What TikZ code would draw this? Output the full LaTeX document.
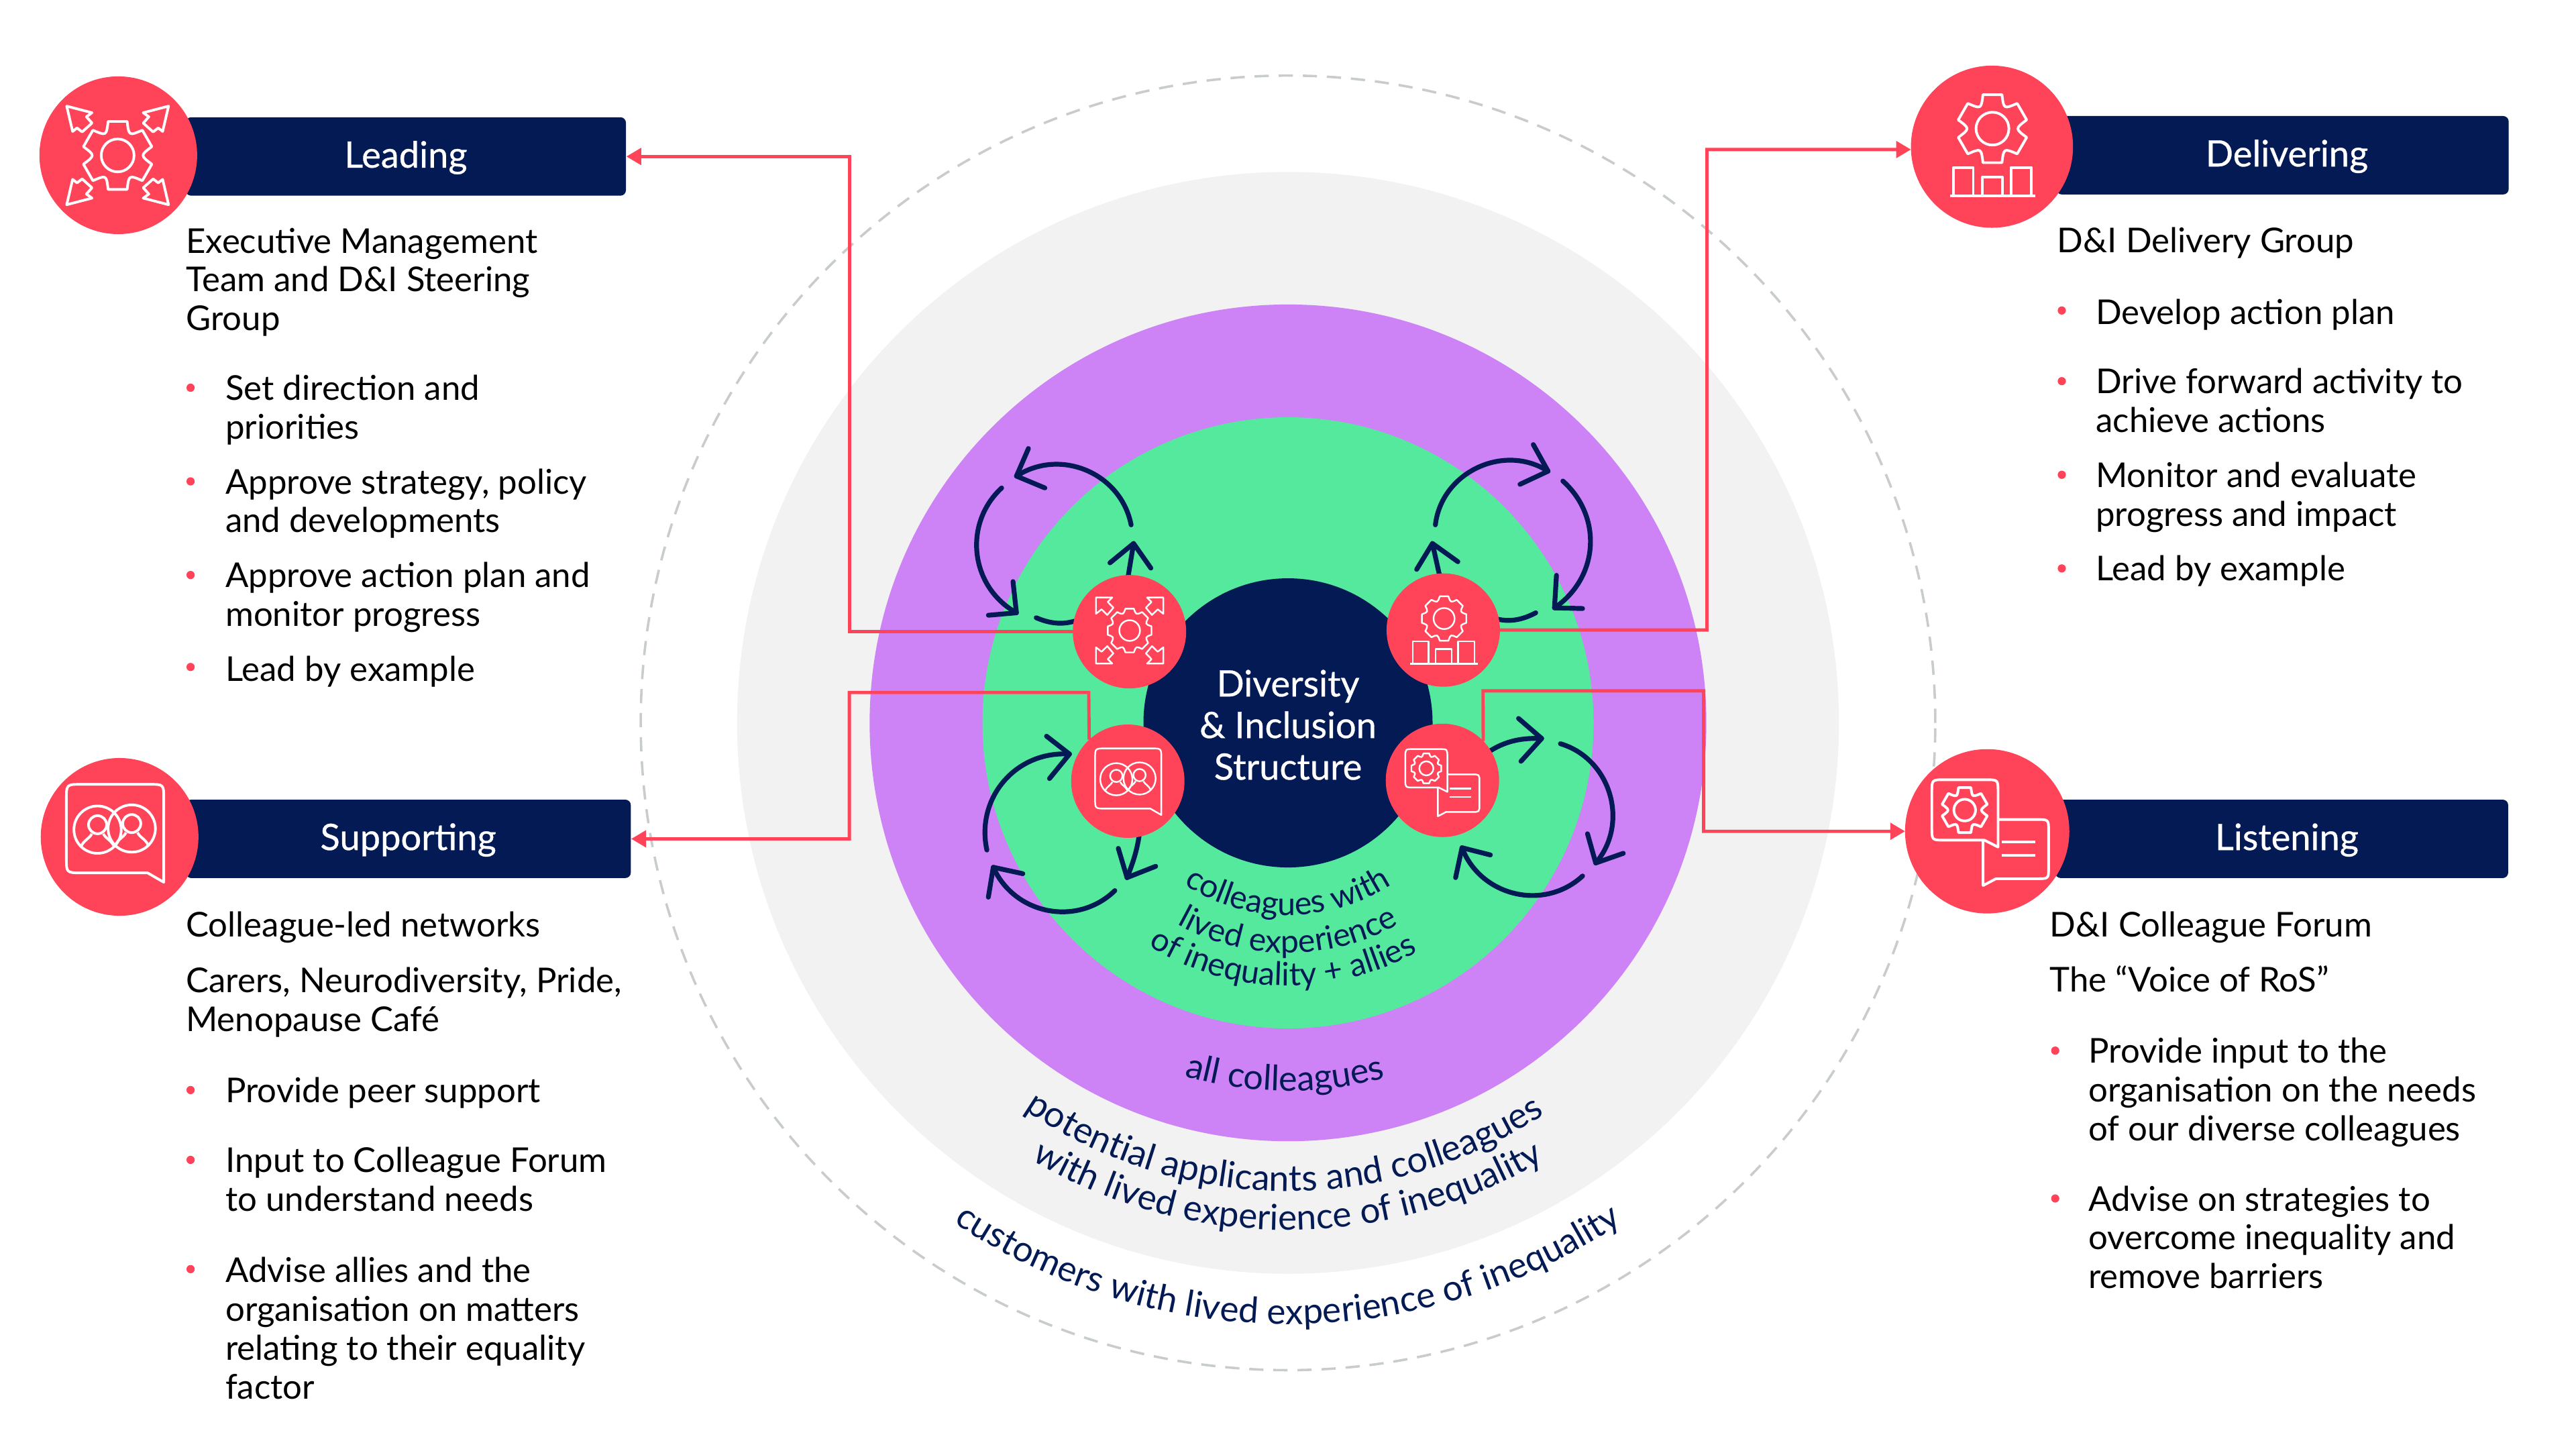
\documentclass[tikz,border=0pt]{standalone}
\usepackage{fontspec}
\setmainfont{Lato}
\newfontfamily\barfont[FakeBold=0.6]{Lato}
\usetikzlibrary{arrows.meta,decorations.text}

\definecolor{rosRed}{HTML}{FF445A}
\definecolor{rosNavy}{HTML}{041A55}
\definecolor{rosPurple}{HTML}{CD82F6}
\definecolor{rosGreen}{HTML}{55E99E}
\definecolor{rosGrey}{HTML}{F2F2F2}
\definecolor{rosDash}{HTML}{C9CCCC}

\tikzset{
  ring/.style={circle,inner sep=0pt,outer sep=0pt},
  redball/.style={ring,fill=rosRed},
  barbox/.style={rectangle,fill=rosNavy,rounded corners=2.5pt,text=white,minimum height=35.8pt,inner sep=0pt,text height=12pt,text depth=1.8pt,font=\barfont\fontsize{16.6}{19}\selectfont},
  bodytext/.style={anchor=north west,inner sep=0pt,align=left,text=black,font=\fontsize{15.6}{17.7}\selectfont,execute at begin node={\rule{0pt}{13pt}}},
  dotbullet/.style={circle,fill=rosRed,inner sep=0pt,minimum size=3.75pt},
  flowline/.style={draw=rosNavy,line width=2.2pt,line cap=round,line join=round},
  redline/.style={draw=rosRed,line width=1.5pt},
  redtip/.style={redline,-{Triangle[length=6.75pt,width=7.5pt]}},
  iconbig/.style={draw=white,yscale=-1,line width=1.2pt,line join=round},
  iconmini/.style={draw=white,yscale=-1,line width=0.75pt,line join=round},
  pics/gearsix/.style={code={
    \draw (74.4:21.5) \foreach \a in {90,150,...,390} { -- (\a+15.6:21.5) .. controls (\a+30:13.7) .. (\a+44.4:21.5) } -- cycle;
    \draw (0,0) circle[radius=10];
  }},
  pics/geareight/.style={code={
    \draw (79:21.5) \foreach \a in {90,135,...,405} { -- (\a+11:21.5) .. controls (\a+22.5:16.3) .. (\a+34:21.5) } -- cycle;
    \draw (0,0) circle[radius=10];
  }},
  pics/arrowsfour/.style={code={
    \foreach \sx/\sy in {1/1,-1/1,1/-1,-1/-1} {
      \draw[xscale=\sx,yscale=\sy] (31,-30) -- (15.6,-26) -- (19,-23.5) -- (15.6,-19.7) -- (21.6,-14.3) -- (24.7,-16.7) -- (27.4,-14.6) -- cycle;
    }
  }},
  pics/arrowsmini/.style={code={
    \foreach \sx/\sy in {1/1,-1/1,1/-1,-1/-1} {
      \draw[xscale=\sx,yscale=\sy] (20.5,-20.1) -- (10.6,-20.1) -- (13.3,-17.4) -- (9.9,-13.9) -- (13.6,-9.5) -- (17.1,-12.9) -- (20.5,-10.2) -- cycle;
    }
  }},
  pics/barsicon/.style={code={
    \draw (-26,0) -- (26,0);
    \draw (-24.1,0) rectangle (-11.9,-17.2);
    \draw (-6.4,0) rectangle (5.9,-11.4);
    \draw (11,0) rectangle (23.6,-17.2);
  }},
  pics/peoplebubble/.style={code={
    \draw (-32.4,-23) .. controls (-32.4,-32) .. (-23,-32) -- (18,-32) .. controls (26.9,-32) .. (26.9,-23) -- (26.9,27.6) -- (17,21.9) -- (-23,21.9) .. controls (-32.4,21.9) .. (-32.4,13) -- cycle;
    \foreach \px/\py in {-13.4/-4.4,7.4/-5.1} {
      \draw (\px,\py) circle[radius=14.4];
      \draw (\px,\py-3) circle[radius=5.5];
      \draw (\px-10,\py+10.2) .. controls (\px-8.5,\py+6.5) and (\px-5,\py+5.5) .. (\px-3.5,\py+2.5);
      \draw (\px+3.5,\py+2.5) .. controls (\px+5,\py+5.5) and (\px+8.5,\py+6.5) .. (\px+10,\py+10.2);
    }
  }},
  pics/talkbubbles/.style={code={
    % first bubble
    \draw (-33.7,-24) .. controls (-33.7,-31.4) .. (-26,-31.4) -- (-1,-31.4) .. controls (6.6,-31.4) .. (6.6,-24) -- (6.6,9.6) -- (-1.7,5.4) -- (-26,5.4) .. controls (-33.7,5.4) .. (-33.7,-2) -- cycle;
    % second bubble
    \draw (6.6,-7.2) -- (30,-7.2) .. controls (37.4,-7.2) .. (37.4,0) -- (37.4,21.9) .. controls (37.4,28.9) .. (30,28.9) -- (5.3,28.9) -- (-2.5,33) -- (-2.5,5.4);
    \draw (8.7,6.5) -- (29.3,6.5);
    \draw (8.7,14.6) -- (29.3,14.6);
  }},
}

\begin{document}
\begin{tikzpicture}[x=0.75pt,y=0.75pt,yscale=-1,xscale=1]
\useasboundingbox (0,0) rectangle (1568,882);

% Rings
\node[ring,draw=rosDash,line width=1.1pt,dash pattern=on 6.5pt off 4.5pt,minimum size=591pt] (customerring) at (784,440) {};
\node[ring,fill=rosGrey,minimum size=503pt] (applicantring) at (784,440) {};
\node[ring,fill=rosPurple,minimum size=382pt] (colleaguering) at (784,440) {};
\node[ring,fill=rosGreen,minimum size=279pt] (allyring) at (784,440) {};

% Curved labels
\path[decorate,decoration={text along path,text align=center,text color=rosNavy,text={|\fontsize{16.3}{18}\selectfont|customers with lived experience of inequality}}] (784,440) ++(150:366) arc[start angle=150,end angle=30,radius=366];
\path[decorate,decoration={text along path,text align=center,text color=rosNavy,text={|\fontsize{16.3}{18}\selectfont|with lived experience of inequality}}] (784,440) ++(160:308.6) arc[start angle=160,end angle=20,radius=308.6];
\path[decorate,decoration={text along path,text align=center,text color=rosNavy,text={|\fontsize{16.5}{18}\selectfont|potential applicants and colleagues}}] (784,440) ++(160.5:285) arc[start angle=160.5,end angle=20.5,radius=285];
\path[decorate,decoration={text along path,text align=center,text color=rosNavy,text={|\fontsize{16}{18}\selectfont|all colleagues}}] (784,440) ++(150.5:224) arc[start angle=150.5,end angle=30.5,radius=224];
\path[decorate,decoration={text along path,text align=center,text color=rosNavy,text={|\fontsize{14.8}{16}\selectfont|of inequality + allies}}] (784,440) ++(171.25:160) arc[start angle=171.25,end angle=11.25,radius=160];
\path[decorate,decoration={text along path,text align=center,text color=rosNavy,text={|\fontsize{14.8}{16}\selectfont|lived experience}}] (784,440) ++(170:140) arc[start angle=170,end angle=10,radius=140];
\path[decorate,decoration={text along path,text align=center,text color=rosNavy,text={|\fontsize{14.8}{16}\selectfont|colleagues with}}] (784,440) ++(170:117) arc[start angle=170,end angle=10,radius=117];

% Leading loop
\draw[flowline] (688.5,319.5) to[bend left=56,looseness=1.08] (618.7,289.8);
\draw[flowline] (626,273) -- (618.7,289.8) -- (636,297);
\draw[flowline] (609.7,297) to[bend left=54,looseness=1.08] (618.7,373);
\draw[flowline] (616.6,354) -- (618.7,373) -- (601.6,374.5);
\draw[flowline] (630.7,376) to[bend left=23] (660,376);
\draw[flowline] (686,355) -- (690,330.8);
\draw[flowline] (675.6,342.6) -- (690,330.8) -- (700.5,345.8);

% Delivering loop
\draw[flowline] (873.7,319.5) to[bend right=58,looseness=1.08] (942.3,286.8);
\draw[flowline] (933.3,270.6) -- (942.3,286.8) -- (925.2,294.8);
\draw[flowline] (951.3,292.8) to[bend right=52,looseness=1.08] (946.2,370);
\draw[flowline] (947.4,350.2) -- (946.2,370) -- (963.3,370.4);
\draw[flowline] (905,375) to[bend left=24] (934.8,373);
\draw[flowline] (877.3,355) -- (871.9,330.8);
\draw[flowline] (862.3,346.6) -- (871.9,330.8) -- (887.4,341.9);

% Supporting loop
\draw[flowline] (600.7,517.4) to[bend right=53,looseness=1.08] (651,459);
\draw[flowline] (637,448.1) -- (651,459) -- (638.8,473.9);
\draw[flowline] (694.5,500) to[bend right=8] (686,534.2);
\draw[flowline] (680.7,516.4) -- (686,534.2) -- (703.5,527.3);
\draw[flowline] (678.6,542.1) to[bend right=55,looseness=1.08] (604.6,527.9);
\draw[flowline] (622.6,531.8) -- (604.6,527.9) -- (601.6,546.1);

% Listening loop
\draw[flowline] (900,462) to[bend right=20] (938.4,449.5);
\draw[flowline] (924.3,437.3) -- (938.4,449.5) -- (925.8,463.4);
\draw[flowline] (949.8,452.7) to[bend right=57,looseness=1.08] (971.3,525.3);
\draw[flowline] (966.3,507.5) -- (971.3,525.3) -- (988.1,519.4);
\draw[flowline] (963.3,533.2) to[bend right=56,looseness=1.08] (889.9,516);
\draw[flowline] (907.2,520.4) -- (889.9,516) -- (886,534.2);

% Core and small circles
\node[ring,fill=rosNavy,minimum size=132pt,text=white,align=center,font=\barfont\fontsize{16.6}{19}\selectfont] (core) at (784,440) {\rule{0pt}{14pt}Diversity\\\&~Inclusion\\Structure};
\node[redball,minimum size=51.75pt] (minilead) at (687.5,384.5) {};
\node[redball,minimum size=51.75pt] (minideliver) at (878.5,383.5) {};
\node[redball,minimum size=51.75pt] (minisupport) at (686.5,475.5) {};
\node[redball,minimum size=51.75pt] (minilisten) at (878,475) {};
\pic[iconmini,scale=.63] at (687.6,383.8) {geareight};
\pic[iconmini] at (687.6,383.8) {arrowsmini};
\pic[iconmini,scale=.64] at (879,376.5) {geareight};
\pic[iconmini,scale=.79] at (878.9,404) {barsicon};
\pic[iconmini,scale=.68] at (688.6,477.3) {peoplebubble};
\pic[iconmini,scale=.635] at (876.8,475.9) {talkbubbles};
\pic[iconmini,scale=.43] at (868.2,467.7) {geareight};

% Header bars
\node[barbox,minimum width=201pt] (leadbar) at (247,95.25) {Leading};
\node[barbox,minimum width=206.5pt] (deliverbar) at (1389.35,94.5) {\hspace*{4pt}Delivering};
\node[barbox,minimum width=203.2pt] (supportbar) at (248.5,510.6) {Supporting};
\node[barbox,minimum width=206.8pt] (listenbar) at (1388.85,510.6) {\hspace*{4.7pt}Listening};

% Big circles
\node[redball,minimum size=72pt] (biglead) at (72,94.5) {};
\node[redball,minimum size=74pt] (bigdeliver) at (1212.5,89.3) {};
\node[redball,minimum size=72pt] (bigsupport) at (72.8,509.4) {};
\node[redball,minimum size=75pt] (biglisten) at (1209.6,506) {};
\pic[iconbig] at (71.6,94.6) {gearsix};
\pic[iconbig] at (71.6,94.6) {arrowsfour};
\pic[iconbig] at (1212.8,78.3) {gearsix};
\pic[iconbig] at (1213,119.2) {barsicon};
\pic[iconbig] at (72.8,509.4) {peoplebubble};
\pic[iconbig] at (1209.6,506) {talkbubbles};
\pic[iconbig,scale=.66] at (1195.9,493.1) {gearsix};

% Red connectors
\draw[redtip] (minilead.west) -- (517,384.5) -- (517,95.25) -- (leadbar.east);
\draw[redtip] (minideliver.east) -- (1039,383.5) -- (1039,91) -- (bigdeliver.182);
\draw[redtip] (minisupport.133.6) -- (662.7,421.5) -- (517,421.5) -- (517,510.6) -- (supportbar.east);
\draw[redtip] (minilisten.44) -- (902.7,420.5) -- (1037,420.5) -- (1037,506) -- (biglisten.west);

% Leading text
\node[bodytext] (leadhead) at (113,138.5) {Executive Management\\Team and D\&I Steering\\Group};
\node[dotbullet] (leaddota) at (116,236) {};
\node[bodytext] (leadtexta) at (137,228) {Set direction and\\priorities};
\node[dotbullet] (leaddotb) at (116,293) {};
\node[bodytext] (leadtextb) at (137,285) {Approve strategy, policy\\and developments};
\node[dotbullet] (leaddotc) at (116,350) {};
\node[bodytext] (leadtextc) at (137,342) {Approve action plan and\\monitor progress};
\node[dotbullet] (leaddotd) at (116,406) {};
\node[bodytext] (leadtextd) at (137,397) {Lead by example};

% Supporting text
\node[bodytext] (supporthead) at (113,552.6) {Colleague-led networks};
\node[bodytext] (supportsub) at (113,588.5) {Carers, Neurodiversity, Pride,\\Menopause Café};
\node[dotbullet] (supportdota) at (116,663.5) {};
\node[bodytext] (supporttexta) at (137,653.5) {Provide peer support};
\node[dotbullet] (supportdotb) at (116,706) {};
\node[bodytext] (supporttextb) at (137,698) {Input to Colleague Forum\\to understand needs};
\node[dotbullet] (supportdotc) at (116,772.5) {};
\node[bodytext] (supporttextc) at (137,765) {Advise allies and the\\organisation on matters\\relating to their equality\\factor};

% Delivering text
\node[bodytext] (deliverhead) at (1252,136) {D\&I Delivery Group};
\node[dotbullet] (deliverdota) at (1255,189) {};
\node[bodytext] (delivertexta) at (1275.5,180) {Develop action plan};
\node[dotbullet] (deliverdotb) at (1255,232) {};
\node[bodytext] (delivertextb) at (1275.5,224) {Drive forward activity to\\achieve actions};
\node[dotbullet] (deliverdotc) at (1255,289) {};
\node[bodytext] (delivertextc) at (1275.5,281) {Monitor and evaluate\\progress and impact};
\node[dotbullet] (deliverdotd) at (1255,346) {};
\node[bodytext] (delivertextd) at (1275.5,336) {Lead by example};

% Listening text
\node[bodytext] (listenhead) at (1247.5,552.6) {D\&I Colleague Forum};
\node[bodytext] (listensub) at (1247.5,586) {The “Voice of RoS”};
\node[dotbullet] (listendota) at (1251,639.5) {};
\node[bodytext] (listentexta) at (1271,631.5) {Provide input to the\\organisation on the needs\\of our diverse colleagues};
\node[dotbullet] (listendotb) at (1251,729.5) {};
\node[bodytext] (listentextb) at (1271,721.5) {Advise on strategies to\\overcome inequality and\\remove barriers};

\end{tikzpicture}
\end{document}
